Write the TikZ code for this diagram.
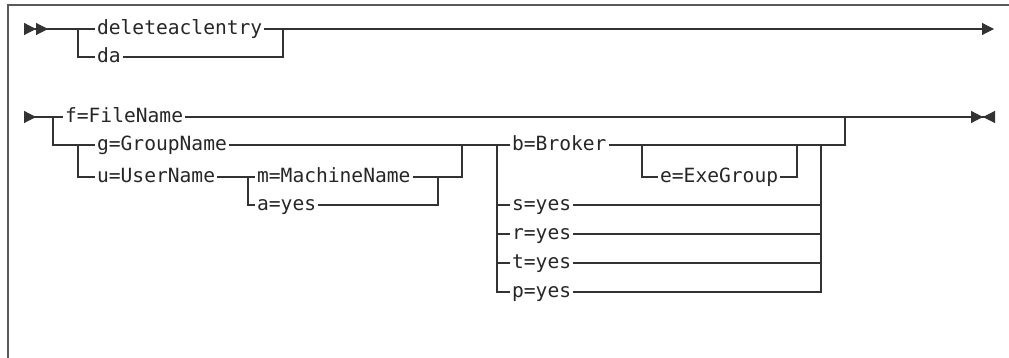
\documentclass[tikz,border=0pt]{standalone}
\usepackage{fontspec}
\setmonofont{DejaVu Sans Mono}
\usetikzlibrary{arrows.meta,positioning}

\begin{document}
\begin{tikzpicture}[
      x=1pt, y=-1pt,
      line width=1.2pt, color=black!80,
      kw/.style={anchor=west, inner xsep=1.5pt, inner ysep=0pt, text height=15pt, text depth=4.5pt,
                 font=\ttfamily\fontsize{19.6}{22}\selectfont, text=black!85},
      tri/.tip={Triangle[length=12pt, width=12pt]}
    ]
    \useasboundingbox (0,0) rectangle (1009,358);
    \draw[line width=2pt, black!65] (1009,5) -- (8,5) -- (8,358);

    \coordinate (s1) at (24,29);
    \coordinate (fk1) at (78,29);
    \coordinate (jn1) at (283,29);
    \coordinate (e1) at (994,29);
    \node[kw] (del) at (95,29) {deleteaclentry};
    \node[kw] (da) at (95,57) {da};

    \draw[{tri[reversed]tri[reversed]}-] (s1) -- (del.west);
    \draw (fk1) |- (da.west);
    \draw (del.east) -- (jn1);
    \draw (da.east) -| (jn1);
    \draw[-{tri}] (jn1) -- (e1);

    \coordinate (s2) at (24,117);
    \coordinate (fk2) at (53,117);
    \coordinate (fk3) at (78,145);
    \coordinate (fk4) at (248,177);
    \coordinate (jn4) at (438,177);
    \coordinate (jn3) at (462,145);
    \coordinate (fk5) at (497,145);
    \coordinate (fk6) at (642,145);
    \coordinate (jn6) at (797,145);
    \coordinate (jn5) at (821,145);
    \coordinate (jn2) at (845,117);
    \coordinate (e2) at (995,117);

    \node[kw] (fn) at (63,117) {f=FileName};
    \node[kw] (gn) at (95,145) {g=GroupName};
    \node[kw] (un) at (95,177) {u=UserName};
    \node[kw] (mn) at (255,177) {m=MachineName};
    \node[kw] (ay) at (255,205) {a=yes};
    \node[kw] (br) at (510,145) {b=Broker};
    \node[kw] (eg) at (658,177) {e=ExeGroup};
    \node[kw] (sy) at (510,205) {s=yes};
    \node[kw] (ry) at (510,234) {r=yes};
    \node[kw] (ty) at (510,263) {t=yes};
    \node[kw] (py) at (510,292) {p=yes};

    \draw[{tri[reversed]}-] (s2) -- (fn.west);
    \draw[-{tri[] tri[reversed]}] (fn.east) -- (e2);
    \draw (fk2) |- (fk3) -- (gn.west);
    \draw (fk3) |- (un.west);
    \draw (un.east) -- (mn.west);
    \draw (fk4) |- (ay.west);
    \draw (mn.east) -- (jn4) -| (jn3);
    \draw (ay.east) -| (jn4);
    \draw (gn.east) -- (br.west);
    \foreach \n in {sy,ry,ty,py} {
      \draw (fk5) |- (\n.west);
      \draw (\n.east) -| (jn5);
    }
    \draw (br.east) -| (jn2);
    \draw (fk6) |- (eg.west);
    \draw (eg.east) -| (jn6);
  \end{tikzpicture}
\end{document}
